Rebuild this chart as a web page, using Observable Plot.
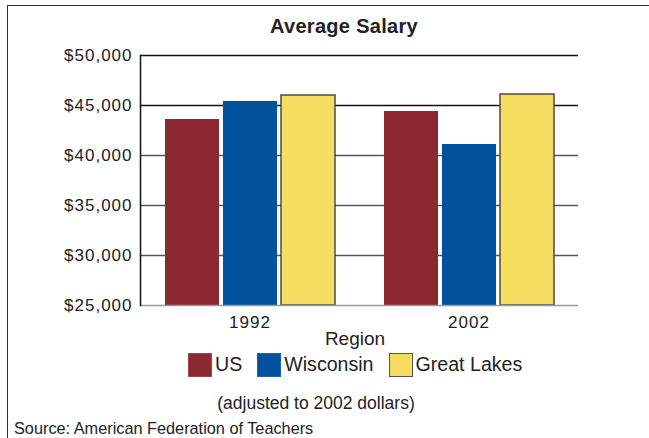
<!DOCTYPE html>
<html>
<head>
<meta charset="utf-8">
<script src="https://cdn.jsdelivr.net/npm/d3@7"></script>
<script src="https://cdn.jsdelivr.net/npm/@observablehq/plot@0.6"></script>
<style>
  html, body { margin: 0; padding: 0; background: #fff; }
  #wrap { position: relative; width: 649px; height: 438px; overflow: hidden;
          font-family: "Liberation Sans", Arial, sans-serif; color: #222; }
  #border { position: absolute; left: 7px; top: 5px; width: 700px; height: 500px;
            border-left: 1.5px solid #333; border-top: 1.5px solid #333; }
  .t { position: absolute; white-space: nowrap; line-height: 1; }
  #title { font-size: 20px; font-weight: bold; letter-spacing: 0.3px; left: 344px; top: 15.8px; transform: translateX(-50%); }
  #region { font-size: 19px; left: 355px; top: 329px; transform: translateX(-50%); }
  #legend { position: absolute; left: 188px; top: 353px; display: flex; align-items: center; font-size: 19.6px; line-height: 1; }
  .item { display: flex; align-items: center; margin-right: 15px; }
  .sw { width: 24px; height: 24px; margin-right: 3px; box-sizing: border-box; }
  #note { font-size: 17.5px; left: 316px; top: 395px; transform: translateX(-50%); }
  #source { font-size: 16.3px; left: 14px; top: 419.5px; }
  #chart { position: absolute; left: 0; top: 0; }
  #chart svg text { font-family: "Liberation Sans", Arial, sans-serif; font-size: 17px; letter-spacing: 1px; fill: #222; }
</style>
</head>
<body>
<div id="wrap">
  <div id="border"></div>
  <div id="chart"></div>
  <div class="t" id="title"></div>
  <div class="t" id="region"></div>
  <div id="legend"></div>
  <div class="t" id="note"></div>
  <div class="t" id="source"></div>
</div>
<script>
// ---- data ----
const title = "Average Salary";
const legendTitle = "Region";
const note = "(adjusted to 2002 dollars)";
const source = "Source: American Federation of Teachers";
const years = ["1992", "2002"];
const regions = ["US", "Wisconsin", "Great Lakes"];
const salary1992 = [43600, 45400, 46000];
const salary2002 = [44400, 41100, 46100];
const regionColors = ["#8B2831", "#00529C", "#F6DC5F"];
const swatchBorders = ["#a0454d", "#1c62a8", "#555555"];
const yTicks = [25000, 30000, 35000, 40000, 45000, 50000];

// ---- table ----
const seriesByYear = [salary1992, salary2002];
const data = years.flatMap((year, i) =>
  regions.map((region, j) => ({year, region, salary: seriesByYear[i][j]})));
const base = yTicks[0];

const chart = Plot.plot({
  width: 649,
  height: 438,
  marginTop: 55,
  marginBottom: 133,
  marginLeft: 140,
  marginRight: 71,
  fx: {domain: years, padding: 0, label: null, tickSize: 0, tickPadding: 10},
  x: {domain: regions, axis: null, paddingInner: 0.077, paddingOuter: 0.41},
  y: {domain: [yTicks[0], yTicks[yTicks.length - 1]], ticks: yTicks, tickFormat: d3.format("$,"),
      tickSize: 0, tickPadding: 8, label: null},
  color: {domain: regions, range: regionColors},
  marks: [
    Plot.ruleY(yTicks.filter(d => d > base && d < 45000), {stroke: "#555", strokeWidth: 1.5}),
    Plot.ruleY(yTicks.filter(d => d >= 45000), {stroke: "#111", strokeWidth: 1.5}),
    Plot.barY(data, {fx: "year", x: "region", y1: base, y2: "salary", fill: "region"}),
    Plot.barY(data, {fx: "year", x: "region", y1: base, y2: "salary", fill: "none",
                     stroke: "#4a4a4a", strokeWidth: 1.5, filter: d => d.region === "Great Lakes"}),
    Plot.ruleY([base], {stroke: "#999", strokeWidth: 1.5}),
    Plot.frame({anchor: "left", facetAnchor: "left", stroke: "#111", strokeWidth: 1.5})
  ]
});
document.getElementById("chart").appendChild(chart);

document.getElementById("title").textContent = title;
document.getElementById("region").textContent = legendTitle;
document.getElementById("note").textContent = note;
document.getElementById("source").textContent = source;
const legend = document.getElementById("legend");
regions.forEach((r, i) => {
  const item = document.createElement("div");
  item.className = "item";
  const sw = document.createElement("div");
  sw.className = "sw";
  sw.style.background = regionColors[i];
  sw.style.border = "1px solid " + swatchBorders[i];
  const lab = document.createElement("span");
  lab.textContent = r;
  item.appendChild(sw);
  item.appendChild(lab);
  legend.appendChild(item);
});
</script>
</body>
</html>
